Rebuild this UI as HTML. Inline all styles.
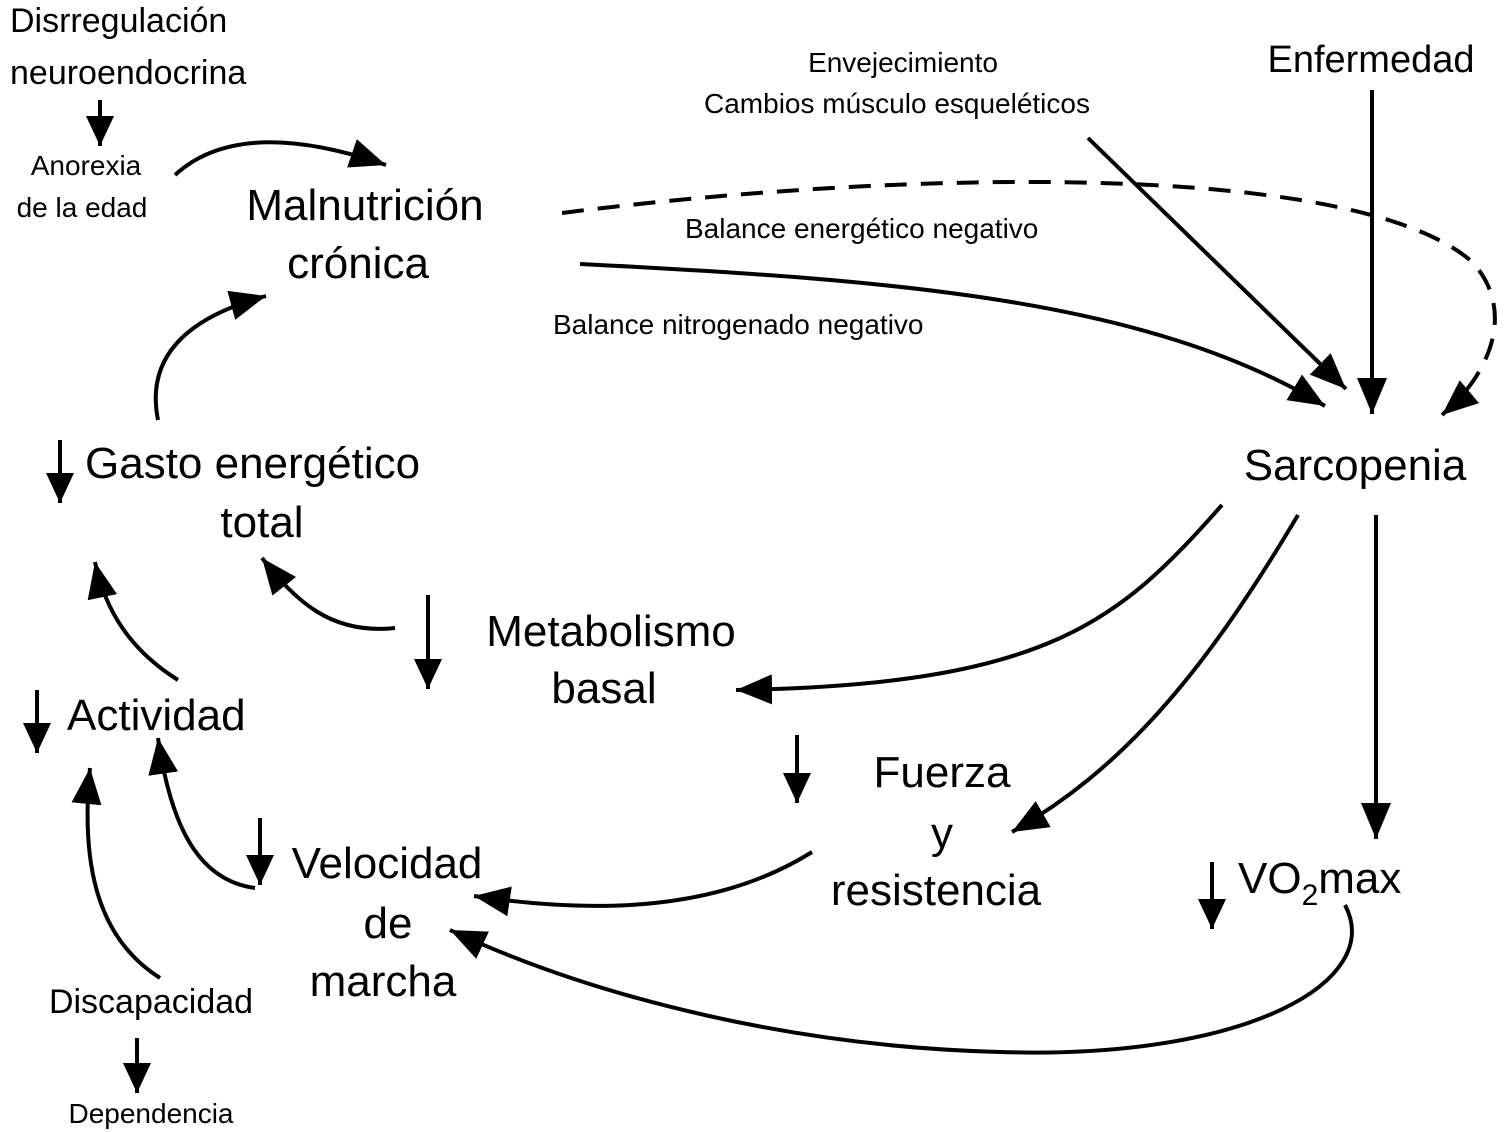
<!DOCTYPE html>
<html><head><meta charset="utf-8"><style>
html,body{margin:0;padding:0;background:#fff}
svg{display:block}
text{font-family:"Liberation Sans",Arial,sans-serif;fill:#000}
</style></head><body>
<svg width="1507" height="1132" viewBox="0 0 1507 1132" xmlns="http://www.w3.org/2000/svg">
<defs>
<marker id="a" markerUnits="userSpaceOnUse" markerWidth="40" markerHeight="32" refX="36" refY="15" orient="auto">
<path d="M0,0 L36,15 L0,30 Z" fill="#000"/>
</marker>
<marker id="s" markerUnits="userSpaceOnUse" markerWidth="32" markerHeight="30" refX="30" refY="14" orient="auto">
<path d="M0,0 L30,14 L0,28 Z" fill="#000"/>
</marker>
</defs>
<g stroke="#000" stroke-width="4" fill="none">
<!-- small down arrows -->
<line x1="100" y1="100" x2="100" y2="146" marker-end="url(#s)"/>
<line x1="60" y1="440" x2="60" y2="503" marker-end="url(#s)"/>
<line x1="428" y1="595" x2="428" y2="689" marker-end="url(#s)"/>
<line x1="37" y1="690" x2="37" y2="753" marker-end="url(#s)"/>
<line x1="797" y1="735" x2="797" y2="803" marker-end="url(#s)"/>
<line x1="260" y1="818" x2="260" y2="885" marker-end="url(#s)"/>
<line x1="1212" y1="862" x2="1212" y2="929" marker-end="url(#s)"/>
<line x1="137" y1="1038" x2="137" y2="1093" marker-end="url(#s)"/>
<!-- curves -->
<path d="M175,175 Q240,115 386,165" marker-end="url(#a)"/>
<path d="M158,420 Q140,330 266,296" marker-end="url(#a)"/>
<path d="M562,213 C900,170 1350,160 1470,260 C1515,305 1495,370 1442,415" stroke-dasharray="22,14" marker-end="url(#a)"/>
<path d="M580,264 C900,280 1150,300 1325,406" marker-end="url(#a)"/>
<line x1="1088" y1="138" x2="1346" y2="389" marker-end="url(#a)"/>
<line x1="1372" y1="90" x2="1372" y2="414" marker-end="url(#a)"/>
<line x1="1376" y1="515" x2="1376" y2="839" marker-end="url(#a)"/>
<path d="M1222,505 C1120,620 1050,685 736,690" marker-end="url(#a)"/>
<path d="M1298,515 C1200,680 1120,770 1012,832" marker-end="url(#a)"/>
<path d="M395,628 C330,635 295,600 262,558" marker-end="url(#a)"/>
<path d="M178,680 C130,650 105,610 95,562" marker-end="url(#a)"/>
<path d="M255,888 C195,880 170,820 158,738" marker-end="url(#a)"/>
<path d="M160,978 C100,940 80,870 90,768" marker-end="url(#a)"/>
<path d="M812,852 C720,910 600,915 474,896" marker-end="url(#a)"/>
<path d="M1345,905 C1385,980 1250,1060 1000,1052 C800,1047 600,1000 450,930" marker-end="url(#a)"/>
</g>
<g>
<text x="10" y="32" font-size="34">Disrregulación</text>
<text x="10" y="84" font-size="34">neuroendocrina</text>
<text x="86" y="175" font-size="28" text-anchor="middle">Anorexia</text>
<text x="82" y="217" font-size="28" text-anchor="middle">de la edad</text>
<text x="365" y="220" font-size="44" text-anchor="middle">Malnutrición</text>
<text x="358" y="278" font-size="44" text-anchor="middle">crónica</text>
<text x="903" y="72" font-size="28" text-anchor="middle">Envejecimiento</text>
<text x="897" y="113" font-size="28" text-anchor="middle">Cambios músculo esqueléticos</text>
<text x="1371" y="72" font-size="38" text-anchor="middle">Enfermedad</text>
<text x="685" y="238" font-size="28">Balance energético negativo</text>
<text x="553" y="334" font-size="28">Balance nitrogenado negativo</text>
<text x="1355" y="480" font-size="44" text-anchor="middle">Sarcopenia</text>
<text x="85" y="478" font-size="44">Gasto energético</text>
<text x="262" y="537" font-size="44" text-anchor="middle">total</text>
<text x="611" y="646" font-size="44" text-anchor="middle">Metabolismo</text>
<text x="604" y="703" font-size="44" text-anchor="middle">basal</text>
<text x="67" y="730" font-size="44">Actividad</text>
<text x="942" y="787" font-size="44" text-anchor="middle">Fuerza</text>
<text x="942" y="848" font-size="44" text-anchor="middle">y</text>
<text x="936" y="905" font-size="44" text-anchor="middle">resistencia</text>
<text x="387" y="878" font-size="44" text-anchor="middle">Velocidad</text>
<text x="388" y="938" font-size="44" text-anchor="middle">de</text>
<text x="383" y="996" font-size="44" text-anchor="middle">marcha</text>
<text x="1238" y="893" font-size="44">VO<tspan font-size="30" dy="12">2</tspan><tspan dy="-12">max</tspan></text>
<text x="151" y="1013" font-size="34" text-anchor="middle">Discapacidad</text>
<text x="151" y="1123" font-size="28" text-anchor="middle">Dependencia</text>
</g>
</svg>
</body></html>
